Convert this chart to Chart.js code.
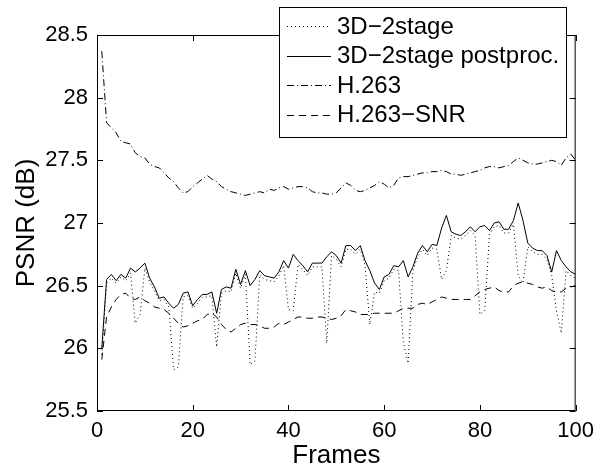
<!DOCTYPE html>
<html>
<head>
<meta charset="utf-8">
<script src="https://cdn.jsdelivr.net/npm/chart.js@4"></script>
<style>
  html, body { margin: 0; padding: 0; background: #fff; }
  #wrap { width: 601px; height: 474px; }
</style>
</head>
<body>
<div id="wrap"><canvas id="chart" width="601" height="474"></canvas></div>
<script>
// Frames 1..100
const frames = Array.from({ length: 100 }, (_, i) => i + 1);

// 3D-2stage (dotted)
const stage2 = [
  25.95, 26.52, 26.56, 26.52, 26.57, 26.54, 26.60, 26.20, 26.27, 26.64,
  26.53, 26.46, 26.38, 26.39, 26.33, 25.83, 25.85, 26.41, 26.42, 26.32,
  26.36, 26.41, 26.41, 26.42, 26.01, 26.44, 26.46, 26.45, 26.60, 26.48,
  26.59, 25.87, 25.90, 26.59, 26.55, 26.54, 26.53, 26.58, 26.66, 26.31,
  26.30, 26.67, 26.63, 26.58, 26.65, 26.65, 26.65, 26.04, 26.74, 26.71,
  26.65, 26.79, 26.79, 26.75, 26.79, 26.66, 26.19, 26.45, 26.44, 26.54,
  26.56, 26.63, 26.62, 26.05, 25.88, 26.62, 26.73, 26.79, 26.74, 26.80,
  26.79, 26.55, 26.62, 26.90, 26.88, 26.87, 26.90, 26.94, 26.90, 26.27,
  26.30, 26.91, 26.97, 26.98, 26.92, 26.92, 26.99, 26.58, 26.52, 26.81,
  26.77, 26.75, 26.75, 26.71, 26.58, 26.30, 26.12, 26.62, 26.58, 26.56
];

// 3D-2stage postproc. (solid)
const stage2Post = [
  26.00, 26.55, 26.59, 26.54, 26.59, 26.56, 26.64, 26.61, 26.64, 26.68,
  26.56, 26.49, 26.40, 26.41, 26.36, 26.32, 26.35, 26.44, 26.45, 26.34,
  26.39, 26.43, 26.43, 26.45, 26.28, 26.47, 26.49, 26.48, 26.63, 26.51,
  26.62, 26.50, 26.55, 26.62, 26.58, 26.57, 26.56, 26.61, 26.70, 26.64,
  26.75, 26.70, 26.66, 26.61, 26.68, 26.68, 26.68, 26.73, 26.77, 26.74,
  26.68, 26.82, 26.82, 26.78, 26.82, 26.70, 26.62, 26.52, 26.47, 26.57,
  26.59, 26.66, 26.65, 26.70, 26.57, 26.65, 26.76, 26.82, 26.77, 26.83,
  26.82, 26.96, 27.06, 26.93, 26.91, 26.90, 26.93, 26.97, 26.93, 26.97,
  26.98, 26.94, 27.00, 27.01, 26.95, 26.95, 27.02, 27.16, 27.02, 26.84,
  26.80, 26.78, 26.78, 26.74, 26.61, 26.78, 26.70, 26.65, 26.61, 26.59
];

// H.263 (dash-dot)
const h263 = [
  28.37, 27.80, 27.76, 27.72, 27.65, 27.64, 27.63, 27.56, 27.53, 27.52,
  27.47, 27.45, 27.44, 27.40, 27.36, 27.33, 27.28, 27.24, 27.25, 27.29,
  27.32, 27.35, 27.38, 27.35, 27.33, 27.29, 27.27, 27.25, 27.24, 27.23,
  27.22, 27.23, 27.24, 27.25, 27.24, 27.27, 27.26, 27.28, 27.29, 27.27,
  27.28, 27.29, 27.29, 27.28, 27.25, 27.24, 27.24, 27.23, 27.23, 27.24,
  27.28, 27.32, 27.30, 27.26, 27.25, 27.26, 27.28, 27.30, 27.33, 27.31,
  27.28, 27.30, 27.36, 27.37, 27.37, 27.38, 27.39, 27.40, 27.40, 27.41,
  27.41, 27.42, 27.41, 27.39, 27.39, 27.38, 27.39, 27.40, 27.41, 27.42,
  27.44, 27.45, 27.45, 27.44, 27.45, 27.46, 27.49, 27.52, 27.50, 27.48,
  27.47, 27.47, 27.48, 27.49, 27.50, 27.49, 27.46, 27.52, 27.55, 27.50
];

// H.263-SNR (dashed)
const h263snr = [
  25.91, 26.25, 26.33, 26.39, 26.43, 26.44, 26.40, 26.39, 26.41, 26.38,
  26.36, 26.33, 26.32, 26.31, 26.28, 26.24, 26.20, 26.17, 26.18, 26.20,
  26.22, 26.23, 26.27, 26.28, 26.25, 26.19, 26.15, 26.13, 26.16, 26.19,
  26.20, 26.19, 26.19, 26.18, 26.16, 26.16, 26.17, 26.20, 26.19, 26.21,
  26.23, 26.25, 26.25, 26.24, 26.24, 26.25, 26.25, 26.24, 26.23, 26.24,
  26.26, 26.31, 26.30, 26.29, 26.27, 26.27, 26.27, 26.28, 26.28, 26.28,
  26.28, 26.28, 26.30, 26.32, 26.32, 26.32, 26.35, 26.36, 26.35, 26.37,
  26.39, 26.41, 26.40, 26.39, 26.39, 26.39, 26.39, 26.39, 26.42, 26.45,
  26.47, 26.48, 26.49, 26.46, 26.45, 26.45, 26.50, 26.52, 26.53, 26.52,
  26.51, 26.49, 26.48, 26.49, 26.46, 26.45, 26.45, 26.48, 26.49, 26.50
];

const seriesLabels = ['3D\u22122stage', '3D\u22122stage postproc.', 'H.263', 'H.263\u2212SNR'];
const xTicks = [0, 20, 40, 60, 80, 100];
const yTicks = [25.5, 26, 26.5, 27, 27.5, 28, 28.5];

const FONT = 'Liberation Sans, Arial, Helvetica, sans-serif';

function pts(values) {
  return values.map((v, i) => ({ x: frames[i], y: v }));
}

// Box with inward ticks (MATLAB style)
const boxPlugin = {
  id: 'box',
  afterDatasetsDraw(chart) {
    const { ctx, chartArea: a, scales } = chart;
    const len = 6;
    ctx.save();
    ctx.strokeStyle = '#000';
    ctx.lineWidth = 1;
    ctx.strokeRect(a.left + 0.5, a.top + 0.5, a.right - a.left - 1, a.bottom - a.top - 1);
    ctx.beginPath();
    xTicks.forEach(v => {
      const x = Math.round(scales.x.getPixelForValue(v)) + 0.5;
      ctx.moveTo(x, a.bottom); ctx.lineTo(x, a.bottom - len);
      ctx.moveTo(x, a.top); ctx.lineTo(x, a.top + len);
    });
    yTicks.forEach(v => {
      const y = Math.round(scales.y.getPixelForValue(v)) + 0.5;
      ctx.moveTo(a.left, y); ctx.lineTo(a.left + len, y);
      ctx.moveTo(a.right, y); ctx.lineTo(a.right - len, y);
    });
    ctx.stroke();
    ctx.restore();
  }
};

// Legend box in the upper right, overlapping the axes
const legendPlugin = {
  id: 'matlabLegend',
  afterDraw(chart) {
    const { ctx } = chart;
    const x0 = 279, y0 = 7, x1 = 566, y1 = 137;
    const rows = [26, 55.5, 85, 114.5];
    ctx.save();
    ctx.fillStyle = '#fff';
    ctx.fillRect(x0, y0, x1 - x0, y1 - y0);
    ctx.strokeStyle = '#000';
    ctx.lineWidth = 1;
    ctx.strokeRect(x0 + 0.5, y0 + 0.5, x1 - x0, y1 - y0);
    chart.data.datasets.forEach((ds, i) => {
      const y = Math.round(rows[i]) + 0.5;
      ctx.setLineDash(ds.borderDash || []);
      ctx.beginPath();
      ctx.moveTo(287, y);
      ctx.lineTo(331, y);
      ctx.stroke();
      ctx.setLineDash([]);
      ctx.fillStyle = '#000';
      ctx.font = '24px ' + FONT;
      ctx.textBaseline = 'middle';
      ctx.textAlign = 'left';
      ctx.fillText(ds.label, 337, rows[i] + 1);
    });
    ctx.restore();
  }
};

const ctx = document.getElementById('chart').getContext('2d');
new Chart(ctx, {
  type: 'line',
  data: {
    datasets: [
      { label: seriesLabels[0], data: pts(stage2), borderDash: [1, 3] },
      { label: seriesLabels[1], data: pts(stage2Post), borderDash: [] },
      { label: seriesLabels[2], data: pts(h263), borderDash: [7, 3, 1, 3] },
      { label: seriesLabels[3], data: pts(h263snr), borderDash: [7, 5] }
    ].map(d => Object.assign(d, {
      borderColor: '#000',
      borderWidth: 1,
      pointRadius: 0,
      tension: 0,
      fill: false
    }))
  },
  options: {
    responsive: false,
    animation: false,
    layout: { padding: { top: 35, right: 25, left: 0, bottom: 0 } },
    plugins: { legend: { display: false }, tooltip: { enabled: false } },
    scales: {
      x: {
        type: 'linear',
        min: 0,
        max: 100,
        afterBuildTicks: s => { s.ticks = xTicks.map(v => ({ value: v })); },
        afterFit: s => { s.height = 63; },
        grid: { display: false, drawTicks: false },
        border: { display: false },
        ticks: { color: '#000', padding: 7, maxRotation: 0, font: { family: FONT, size: 22 } },
        title: { display: true, text: 'Frames', color: '#000', padding: { top: 0, bottom: 3 }, font: { family: FONT, size: 26 } }
      },
      y: {
        min: 25.5,
        max: 28.5,
        afterBuildTicks: s => { s.ticks = yTicks.map(v => ({ value: v })); },
        afterFit: s => { s.width = 97; },
        grid: { display: false, drawTicks: false },
        border: { display: false },
        ticks: { color: '#000', padding: 9, font: { family: FONT, size: 22 }, callback: v => String(v) },
        title: { display: true, text: 'PSNR (dB)', color: '#000', padding: { top: 11, bottom: 0 }, font: { family: FONT, size: 26 } }
      }
    }
  },
  plugins: [boxPlugin, legendPlugin]
});
</script>
</body>
</html>
